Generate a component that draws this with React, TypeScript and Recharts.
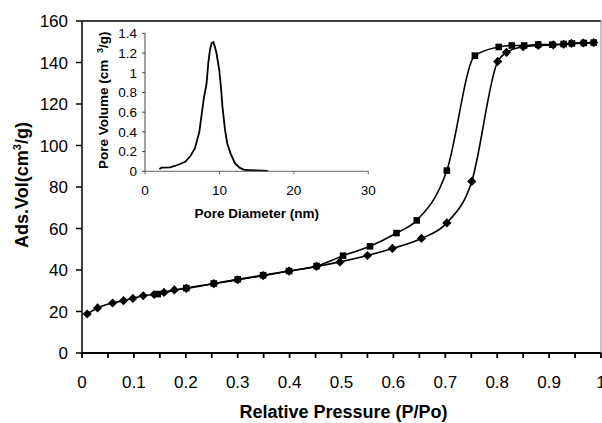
import React from 'react';
import { LineChart, Line, XAxis, YAxis, ReferenceLine, Label } from 'recharts';

// Main isotherm: adsorption (diamonds)
const adsX = [0.010, 0.030, 0.059, 0.080, 0.098, 0.118, 0.139, 0.158, 0.178, 0.201, 0.254, 0.300, 0.349, 0.399, 0.452, 0.497, 0.550, 0.598, 0.654, 0.703, 0.751, 0.801, 0.818, 0.850, 0.879, 0.908, 0.928, 0.943, 0.966, 0.986];
const adsY = [18.8, 21.7, 24.1, 25.2, 26.3, 27.6, 28.2, 29.2, 30.4, 31.1, 33.4, 35.3, 37.3, 39.5, 41.7, 43.9, 47.0, 50.4, 55.2, 62.7, 82.7, 140.5, 144.9, 147.6, 148.2, 148.5, 148.8, 149.2, 149.4, 149.6];

// desorption (squares)
const desX = [0.146, 0.201, 0.254, 0.300, 0.349, 0.399, 0.452, 0.503, 0.555, 0.606, 0.645, 0.703, 0.757, 0.803, 0.828, 0.852, 0.879, 0.906, 0.928, 0.944, 0.967, 0.986];
const desY = [28.4, 31.3, 33.5, 35.5, 37.5, 39.5, 41.9, 46.9, 51.4, 57.8, 63.9, 87.9, 143.3, 147.5, 148.2, 148.2, 148.7, 148.6, 148.9, 149.2, 149.4, 149.6];

// Inset: pore size distribution
const psdX = [1.93, 2.24, 3.35, 4.0, 4.7, 5.4, 6.1, 6.7, 7.3, 7.6, 7.9, 8.27, 8.5, 8.72, 8.95, 9.18, 9.4, 9.6, 9.97, 10.2, 10.4, 10.75, 11.06, 11.5, 12.1, 12.7, 13.4, 15.0, 16.5];
const psdY = [0.023, 0.037, 0.04, 0.054, 0.074, 0.097, 0.155, 0.233, 0.40, 0.57, 0.74, 0.89, 1.095, 1.23, 1.30, 1.31, 1.26, 1.20, 1.03, 0.86, 0.66, 0.42, 0.28, 0.18, 0.08, 0.037, 0.013, 0.01, 0.005];

const mainXTicks = [0, 0.05, 0.1, 0.15, 0.2, 0.25, 0.3, 0.35, 0.4, 0.45, 0.5, 0.55, 0.6, 0.65, 0.7, 0.75, 0.8, 0.85, 0.9, 0.95, 1];
const mainXLabels = ['0', '', '0.1', '', '0.2', '', '0.3', '', '0.4', '', '0.5', '', '0.6', '', '0.7', '', '0.8', '', '0.9', '', '1'];
const mainYTicks = [0, 20, 40, 60, 80, 100, 120, 140, 160];
const insetXTicks = [0, 10, 20, 30];
const insetYTicks = [0, 0.2, 0.4, 0.6, 0.8, 1, 1.2, 1.4];

const adsData = adsX.map((x, i) => ({ x, y: adsY[i] }));
const desData = desX.map((x, i) => ({ x, y: desY[i] }));
const psdData = psdX.map((x, i) => ({ x, y: psdY[i] }));

const FONT = '"Liberation Sans", Arial, Helvetica, sans-serif';

const Diamond = (props: any) => {
  const { cx, cy, index } = props;
  if (cx == null || cy == null) return <g key={`d${index}`} />;
  const r = 4.6;
  return (
    <polygon
      key={`d${index}`}
      points={`${cx},${cy - r} ${cx + r},${cy} ${cx},${cy + r} ${cx - r},${cy}`}
      fill="#000"
    />
  );
};

const Square = (props: any) => {
  const { cx, cy, index } = props;
  if (cx == null || cy == null) return <g key={`s${index}`} />;
  const s = 6.6;
  return <rect key={`s${index}`} x={cx - s / 2} y={cy - s / 2} width={s} height={s} fill="#000" />;
};

const MainYTitle = (props: any) => {
  const vb = props.viewBox || { x: 0, y: 0, width: 0, height: 0 };
  const cx = vb.x + 28;
  const cy = vb.y + vb.height / 2 - 2;
  return (
    <text x={cx} y={cy} transform={`rotate(-90 ${cx} ${cy})`} textAnchor="middle" fontSize={18} fontWeight="bold" fontFamily={FONT} fill="#000">
      Ads.Vol(cm<tspan fontSize={11} dy={-7}>3</tspan><tspan dy={7}>/g)</tspan>
    </text>
  );
};

const MainXTitle = (props: any) => {
  const vb = props.viewBox || { x: 0, y: 0, width: 0, height: 0 };
  return (
    <text x={vb.x + vb.width / 2 + 2} y={vb.y + 65} textAnchor="middle" fontSize={18} fontWeight="bold" fontFamily={FONT} fill="#000">
      Relative Pressure (P/Po)
    </text>
  );
};

const InsetYTitle = (props: any) => {
  const vb = props.viewBox || { x: 0, y: 0, width: 0, height: 0 };
  const cx = vb.x + 48;
  const cy = vb.y + vb.height / 2 - 2;
  return (
    <text x={cx} y={cy} transform={`rotate(-90 ${cx} ${cy})`} textAnchor="middle" fontSize={13.5} fontWeight="bold" fontFamily={FONT} fill="#000">
      Pore Volume (cm <tspan fontSize={9} dx={3} dy={-5}>3</tspan><tspan dy={5}>/g)</tspan>
    </text>
  );
};

const InsetXTitle = (props: any) => {
  const vb = props.viewBox || { x: 0, y: 0, width: 0, height: 0 };
  return (
    <text x={vb.x + vb.width / 2} y={vb.y + 47} textAnchor="middle" fontSize={13.5} fontWeight="bold" fontFamily={FONT} fill="#000">
      Pore Diameter (nm)
    </text>
  );
};

export default function App() {
  return (
    <div style={{ position: 'relative', width: 602, height: 423, background: '#fff', fontFamily: FONT }}>
      <style>{'body{margin:0;}'}</style>
      <div style={{ position: 'absolute', left: 0, top: 0 }}>
        <LineChart width={602} height={423} margin={{ top: 21, right: 1, bottom: 0, left: 0 }}>
          <XAxis
            type="number"
            dataKey="x"
            domain={[0, 1]}
            ticks={mainXTicks}
            tickFormatter={(v: number) => mainXLabels[mainXTicks.indexOf(v)] ?? ''}
            height={70}
            stroke="#000"
            strokeWidth={1.8}
            tickSize={5}
            tickMargin={18}
            tick={{ fontSize: 17, fill: '#000', fontFamily: FONT }}
            interval={0}
            allowDataOverflow
          >
            <Label content={MainXTitle} />
          </XAxis>
          <YAxis
            type="number"
            dataKey="y"
            domain={[0, 160]}
            ticks={mainYTicks}
            width={82}
            stroke="#000"
            strokeWidth={1.5}
            tickSize={6}
            tickMargin={8}
            tick={{ fontSize: 17, fill: '#000', fontFamily: FONT }}
            interval={0}
          >
            <Label content={MainYTitle} />
          </YAxis>
          <ReferenceLine y={160} stroke="#000" strokeWidth={1.5} />
          <ReferenceLine x={1} stroke="#888" strokeWidth={1} />
          <Line
            data={adsData}
            dataKey="y"
            type="monotone"
            stroke="#000"
            strokeWidth={1.6}
            dot={Diamond}
            isAnimationActive={false}
          />
          <Line
            data={desData}
            dataKey="y"
            type="monotone"
            stroke="#000"
            strokeWidth={1.6}
            dot={Square}
            isAnimationActive={false}
          />
        </LineChart>
      </div>
      <div style={{ position: 'absolute', left: 60, top: 20 }}>
        <LineChart width={330} height={210} margin={{ top: 13.3, right: 21.7, bottom: 0, left: 0 }}>
          <XAxis
            type="number"
            dataKey="x"
            domain={[0, 30]}
            ticks={insetXTicks}
            height={58.7}
            stroke="#666"
            strokeWidth={1}
            tickSize={3}
            tickMargin={11}
            tick={{ fontSize: 13.5, fill: '#000', fontFamily: FONT }}
            interval={0}
          >
            <Label content={InsetXTitle} />
          </XAxis>
          <YAxis
            type="number"
            dataKey="y"
            domain={[0, 1.4]}
            ticks={insetYTicks}
            width={85}
            stroke="#444"
            strokeWidth={1}
            tickSize={3}
            tickMargin={5}
            tick={{ fontSize: 13.5, fill: '#000', fontFamily: FONT }}
            interval={0}
          >
            <Label content={InsetYTitle} />
          </YAxis>
          <Line
            data={psdData}
            dataKey="y"
            type="linear"
            stroke="#000"
            strokeWidth={1.8}
            dot={false}
            isAnimationActive={false}
          />
        </LineChart>
      </div>
    </div>
  );
}
